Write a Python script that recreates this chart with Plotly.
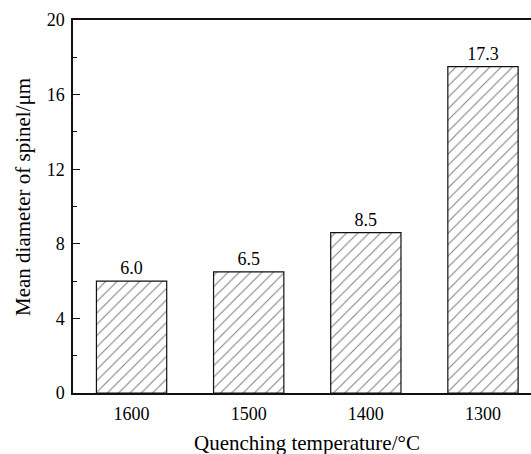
import plotly.graph_objects as go

categories = ["1600", "1500", "1400", "1300"]
diameters = [6.0, 6.5, 8.6, 17.5]
value_labels = ["6.0", "6.5", "8.5", "17.3"]
y_tick_vals = [0, 4, 8, 12, 16, 20]

FONT = "Liberation Serif"

fig = go.Figure()
fig.add_trace(go.Bar(
    x=categories,
    y=diameters,
    text=value_labels,
    textposition="outside",
    textfont=dict(family=FONT, size=18, color="#000"),
    cliponaxis=False,
    width=0.6,
    marker=dict(
        color="white",
        line=dict(color="#111", width=1.2),
        pattern=dict(shape="/", size=8, solidity=0.13, fgcolor="#000", bgcolor="white", fillmode="overlay"),
    ),
    showlegend=False,
))

fig.update_layout(
    width=531, height=454,
    margin=dict(l=73, r=0, t=20, b=61),
    plot_bgcolor="white", paper_bgcolor="white",
    font=dict(family=FONT, size=18, color="#000"),
    xaxis=dict(
        type="category",
        range=[-0.5, 3.41],
        showline=True, linecolor="#111", linewidth=1.5, mirror=True,
        ticks="", showgrid=False, zeroline=False,
        tickfont=dict(family=FONT, size=18, color="#000"),
        ticklabelstandoff=4,
    ),
    yaxis=dict(
        range=[0, 20],
        tickvals=y_tick_vals,
        showline=True, linecolor="#111", linewidth=1.5,
        ticks="inside", ticklen=7, tickwidth=1.2, tickcolor="#111",
        minor=dict(dtick=2, ticks="inside", ticklen=4, tickwidth=1.2, tickcolor="#111", showgrid=False),
        showgrid=False, zeroline=False,
        tickfont=dict(family=FONT, size=18, color="#000"),
        ticklabelstandoff=3,
    ),
)

pw = 531 - 73 - 0
ph = 454 - 20 - 61

def px(x):
    return (x - 73) / pw

def py(y):
    return (454 - 61 - y) / ph

fig.add_annotation(text="Quenching temperature/°C", x=px(307), y=py(443), xref="paper", yref="paper",
                   xanchor="center", yanchor="middle",
                   showarrow=False, font=dict(family=FONT, size=21, color="#000"))
fig.add_annotation(text="Mean diameter of spinel/μm", x=px(23), y=py(197), xref="paper", yref="paper",
                   xanchor="center", yanchor="middle",
                   showarrow=False, textangle=-90, font=dict(family=FONT, size=21, color="#000"))

fig.write_html("out.html", config={"displayModeBar": False},
               post_script="document.body.style.margin='0';document.body.style.overflow='hidden';")
